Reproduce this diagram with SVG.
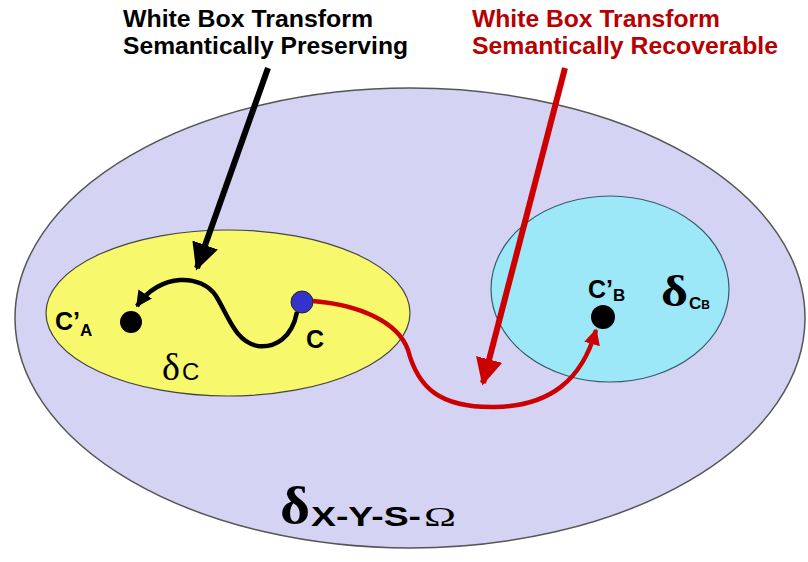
<svg xmlns="http://www.w3.org/2000/svg" width="808" height="562" viewBox="0 0 808 562">
<defs>
<style>
.t{font-family:"Liberation Sans",Arial,sans-serif;font-weight:bold;font-size:23px}
.lbl{font-family:"Liberation Sans",Arial,sans-serif;font-weight:bold;fill:#000}
.dl{font-family:"Liberation Serif","Times New Roman",serif}
</style>
<marker id="ab" viewBox="0 0 10 10" refX="9" refY="5" markerWidth="4.5" markerHeight="4.5" orient="auto" markerUnits="strokeWidth"><path d="M0,0 L10,5 L0,10 Z" fill="#000"/></marker>
<marker id="ar" viewBox="0 0 10 10" refX="9" refY="5" markerWidth="4.5" markerHeight="4.5" orient="auto" markerUnits="strokeWidth"><path d="M0,0 L10,5 L0,10 Z" fill="#cc0000"/></marker>
<marker id="abs" viewBox="0 0 10 10" refX="9" refY="5" markerWidth="3.6" markerHeight="3.6" orient="auto" markerUnits="strokeWidth"><path d="M0,0 L10,5 L0,10 Z" fill="#000"/></marker>
<marker id="ars" viewBox="0 0 10 10" refX="9" refY="5" markerWidth="3.6" markerHeight="3.6" orient="auto" markerUnits="strokeWidth"><path d="M0,0 L10,5 L0,10 Z" fill="#cc0000"/></marker>
</defs>
<rect width="808" height="562" fill="#fff"/>
<g id="outer">
<ellipse cx="410" cy="318" rx="395" ry="230" fill="#d4d3f3" stroke="#555" stroke-width="1.5"/>
<text x="280" y="523" class="lbl dl" font-size="52" font-weight="bold" textLength="30" lengthAdjust="spacingAndGlyphs">δ</text>
<text x="311" y="526" class="lbl" font-size="28" textLength="110" lengthAdjust="spacingAndGlyphs">X-Y-S-</text>
<text x="424" y="526" class="dl" font-size="28" fill="#000" textLength="32" lengthAdjust="spacingAndGlyphs">Ω</text>
</g>
<g id="setC">
<ellipse cx="228" cy="313" rx="182" ry="83" fill="#f8f86c" stroke="#444" stroke-width="1.2"/>
<text x="162" y="380" class="dl" font-size="38" fill="#000">δ</text>
<text x="182" y="380" font-family="Liberation Sans,Arial,sans-serif" font-size="24" fill="#000">C</text>
</g>
<g id="setCB">
<ellipse cx="610" cy="289" rx="119" ry="93" fill="#9ce8f8" stroke="#3a5a6a" stroke-width="1.2"/>
<text x="661" y="306" class="lbl dl" font-size="44" textLength="27" lengthAdjust="spacingAndGlyphs">δ</text>
<text x="689" y="309" class="lbl" font-size="17">C<tspan font-size="12">B</tspan></text>
</g>
<g id="nodeCA">
<circle cx="131" cy="322" r="11" fill="#000"/>
<text x="55" y="330" class="lbl" font-size="25">C’<tspan font-size="17" dy="6">A</tspan></text>
</g>
<g id="nodeC">
<circle cx="302" cy="302" r="11" fill="#3333cc" stroke="#222" stroke-width="1"/>
<text x="306" y="348" class="lbl" font-size="25">C</text>
</g>
<g id="nodeCB">
<circle cx="603" cy="317" r="12" fill="#000"/>
<text x="588" y="298" class="lbl" font-size="25">C’<tspan font-size="17" dy="3">B</tspan></text>
</g>
<g id="labels">
<text x="123" y="27" class="t" fill="#000" textLength="250" lengthAdjust="spacingAndGlyphs">White Box Transform</text>
<text x="123" y="54" class="t" fill="#000" textLength="285" lengthAdjust="spacingAndGlyphs">Semantically Preserving</text>
<text x="472" y="27" class="t" fill="#b80000" textLength="248" lengthAdjust="spacingAndGlyphs">White Box Transform</text>
<text x="472" y="54" class="t" fill="#b80000" textLength="306" lengthAdjust="spacingAndGlyphs">Semantically Recoverable</text>
</g>
<g id="connectors" fill="none">
<path d="M268 68 L197 268" stroke="#000" stroke-width="6" marker-end="url(#ab)"/>
<path d="M565 68 L483 383" stroke="#cc0000" stroke-width="6" marker-end="url(#ar)"/>
<path d="M297 312 C292 338 275 348 258 346 C235 342 228 315 216 296 C202 274 160 272 137 306" stroke="#000" stroke-width="4.5" marker-end="url(#abs)"/>
<path d="M313 301 C360 305 398 322 408 350 C418 388 440 408 495 407 C550 406 582 380 596 330" stroke="#cc0000" stroke-width="4.5" marker-end="url(#ars)"/>
</g>
</svg>
